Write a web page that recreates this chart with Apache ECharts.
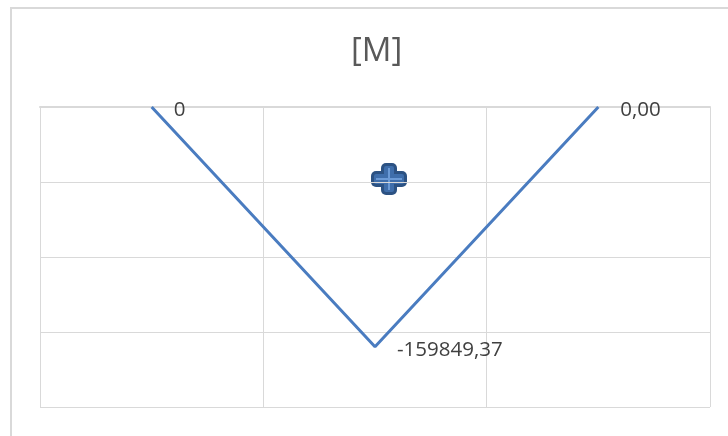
<!DOCTYPE html>
<html>
<head>
<meta charset="utf-8">
<style>
  html, body { margin: 0; padding: 0; background: #ffffff; }
  #chart { width: 728px; height: 436px; }
</style>
<script src="https://cdn.jsdelivr.net/npm/echarts@6/dist/echarts.min.js"></script>
</head>
<body>
<div id="chart"></div>
<script>
// Bending moment diagram [M]
const categories = ['1', '2', '3'];
const momentValues = [0, -159849.37, 0];
const momentLabels = ['0', '-159849,37', '0,00'];

const yMin = -200000;
const yMax = 0;
const yStep = 50000;

const chart = echarts.init(document.getElementById('chart'), null, { renderer: 'canvas' });

const gridColor = '#d9d9d9';
const lineColor = '#4a7cc0';

chart.setOption({
  animation: false,
  backgroundColor: '#ffffff',
  title: {
    text: '[M]',
    left: 346,
    top: 30,
    textStyle: {
      fontFamily: 'Open Sans',
      fontSize: 33,
      fontWeight: 'normal',
      color: '#595959'
    }
  },
  grid: { left: 40, top: 107, width: 670, height: 300, containLabel: false },
  xAxis: {
    type: 'category',
    data: categories,
    boundaryGap: true,
    axisLine: { show: true, lineStyle: { color: gridColor, width: 2 } },
    axisTick: { show: false },
    axisLabel: { show: false },
    splitLine: { show: true, lineStyle: { color: gridColor, width: 1 } }
  },
  yAxis: {
    type: 'value',
    min: yMin,
    max: yMax,
    interval: yStep,
    axisLine: { show: false },
    axisTick: { show: false },
    axisLabel: { show: false },
    splitLine: { show: true, lineStyle: { color: gridColor, width: 1 } }
  },
  series: [{
    type: 'line',
    data: momentValues,
    symbol: 'circle',
    symbolSize: 0,
    showSymbol: true,
    itemStyle: { color: lineColor },
    lineStyle: { color: lineColor, width: 3 },
    label: {
      show: true,
      position: 'right',
      distance: 22,
      offset: [0, 3],
      fontFamily: 'Open Sans',
      fontSize: 20.5,
      color: '#404040',
      formatter: p => momentLabels[p.dataIndex]
    }
  }],
  graphic: [
    {
      type: 'rect',
      shape: { x: 11, y: 8, width: 800, height: 500 },
      style: { fill: 'none', stroke: gridColor, lineWidth: 2 },
      silent: true,
      z: 0
    },
    {
      // move-cursor glyph
      type: 'group',
      x: 389,
      y: 179,
      z: 100,
      children: [
        { type: 'rect', shape: { x: -8, y: -16, width: 16, height: 32, r: 5 }, style: { fill: '#2c5283' } },
        { type: 'rect', shape: { x: -18, y: -8, width: 36, height: 16, r: 5 }, style: { fill: '#2c5283' } },
        { type: 'rect', shape: { x: -5, y: -13, width: 10, height: 26, r: 2 }, style: { fill: '#3f6eab' } },
        { type: 'rect', shape: { x: -15, y: -5, width: 30, height: 10, r: 2 }, style: { fill: '#3f6eab' } },
        { type: 'rect', shape: { x: -1, y: -11, width: 2, height: 22 }, style: { fill: '#6b9ad6' } },
        { type: 'rect', shape: { x: -13, y: -1, width: 26, height: 2 }, style: { fill: '#6b9ad6' } }
      ]
    }
  ]
});
</script>
</body>
</html>
